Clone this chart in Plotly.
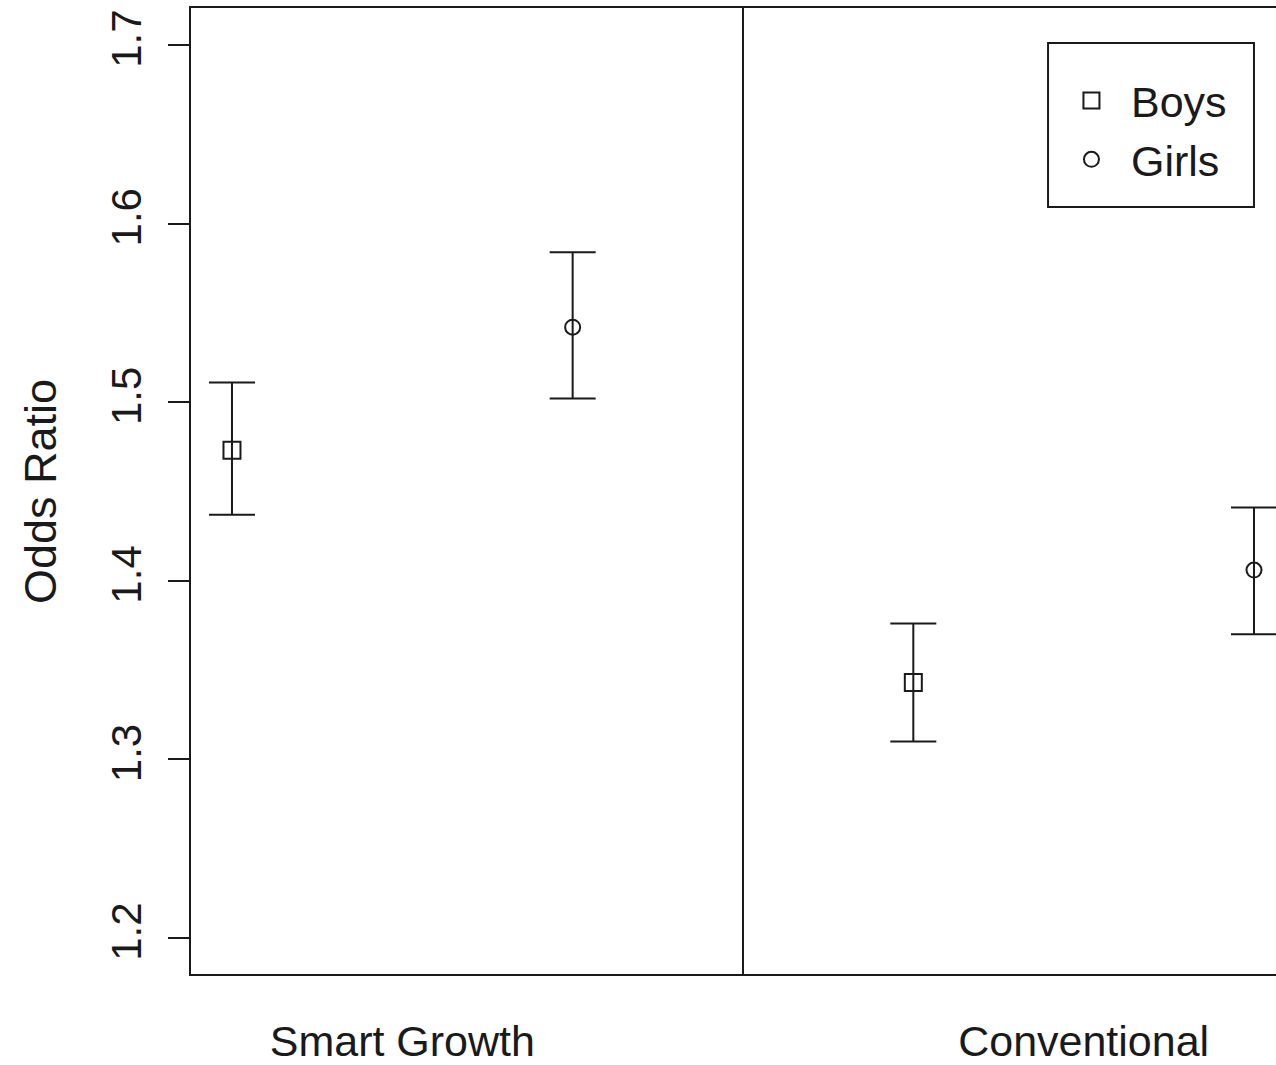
import plotly.graph_objects as go

# ---- data ----
groups = ["Smart Growth", "Conventional"]
sexes = ["Boys", "Girls"]
symbols = {"Boys": "square-open", "Girls": "circle-open"}
marker_sizes = {"Boys": 17, "Girls": 15}

boys_or = [1.473, 1.343]
boys_lo = [1.437, 1.310]
boys_hi = [1.511, 1.376]

girls_or = [1.542, 1.406]
girls_lo = [1.502, 1.370]
girls_hi = [1.584, 1.441]

series = {
    "Boys": (boys_or, boys_lo, boys_hi),
    "Girls": (girls_or, girls_lo, girls_hi),
}

y_ticks = [1.2, 1.3, 1.4, 1.5, 1.6, 1.7]

FONT = "Liberation Sans, Arial, sans-serif"
INK = "#1a1a1a"

fig = go.Figure()
for s_idx, sex in enumerate(sexes):
    vals, lo, hi = series[sex]
    xs = [1 + 2 * g + s_idx for g in range(len(groups))]
    fig.add_trace(go.Scatter(
        x=xs, y=vals, name=sex, mode="markers",
        marker=dict(symbol=symbols[sex], size=marker_sizes[sex], color=INK,
                    line=dict(width=2, color=INK)),
        error_y=dict(type="data", symmetric=False,
                     array=[h - v for h, v in zip(hi, vals)],
                     arrayminus=[v - l for v, l in zip(vals, lo)],
                     width=23, thickness=2, color=INK),
    ))

# group divider
fig.add_shape(type="line", xref="x", yref="paper", x0=2.5, x1=2.5, y0=0, y1=1,
              line=dict(color=INK, width=2))

# legend frame
fig.add_shape(type="rect", xref="paper", yref="paper",
              x0=0.7899, x1=0.9797, y0=0.794, y1=0.9638,
              line=dict(color=INK, width=2), fillcolor="rgba(0,0,0,0)")

fig.add_annotation(text="Odds Ratio", xref="paper", yref="paper",
                   x=-0.1392, y=0.5, textangle=-90, showarrow=False,
                   xanchor="center", yanchor="middle",
                   font=dict(family=FONT, size=45, color=INK))

fig.update_layout(
    width=1276, height=1065,
    margin=dict(l=191, r=0, t=8, b=91, autoexpand=False),
    paper_bgcolor="white", plot_bgcolor="white",
    font=dict(family=FONT, size=44, color=INK),
    showlegend=True,
    legend=dict(x=0.7935, y=0.940, xanchor="left", yanchor="top",
                bgcolor="rgba(0,0,0,0)", borderwidth=0,
                font=dict(family=FONT, size=43, color=INK),
                itemwidth=69),
    xaxis=dict(range=[0.8797, 4.0646], tickvals=[1.5, 3.5], ticktext=groups,
               ticks="", showgrid=False, zeroline=False, automargin=False,
               showline=True, mirror=True, linecolor=INK, linewidth=2,
               ticklabelstandoff=28,
               tickfont=dict(family=FONT, size=43, color=INK)),
    yaxis=dict(range=[1.1798, 1.7207], tickvals=y_ticks,
               ticktext=[f"{v:.1f}" for v in y_ticks],
               ticks="outside", ticklen=21, tickwidth=2, tickcolor=INK,
               tickangle=-90, showgrid=False, zeroline=False, automargin=False,
               showline=True, linecolor=INK, linewidth=2,
               ticklabelstandoff=10,
               tickfont=dict(family=FONT, size=42, color=INK)),
)

# remove the default page margin so the figure fills the window exactly
fig.write_html("out.html",
               config={"displayModeBar": False},
               post_script="document.body.style.margin='0';document.body.style.overflow='hidden';")
